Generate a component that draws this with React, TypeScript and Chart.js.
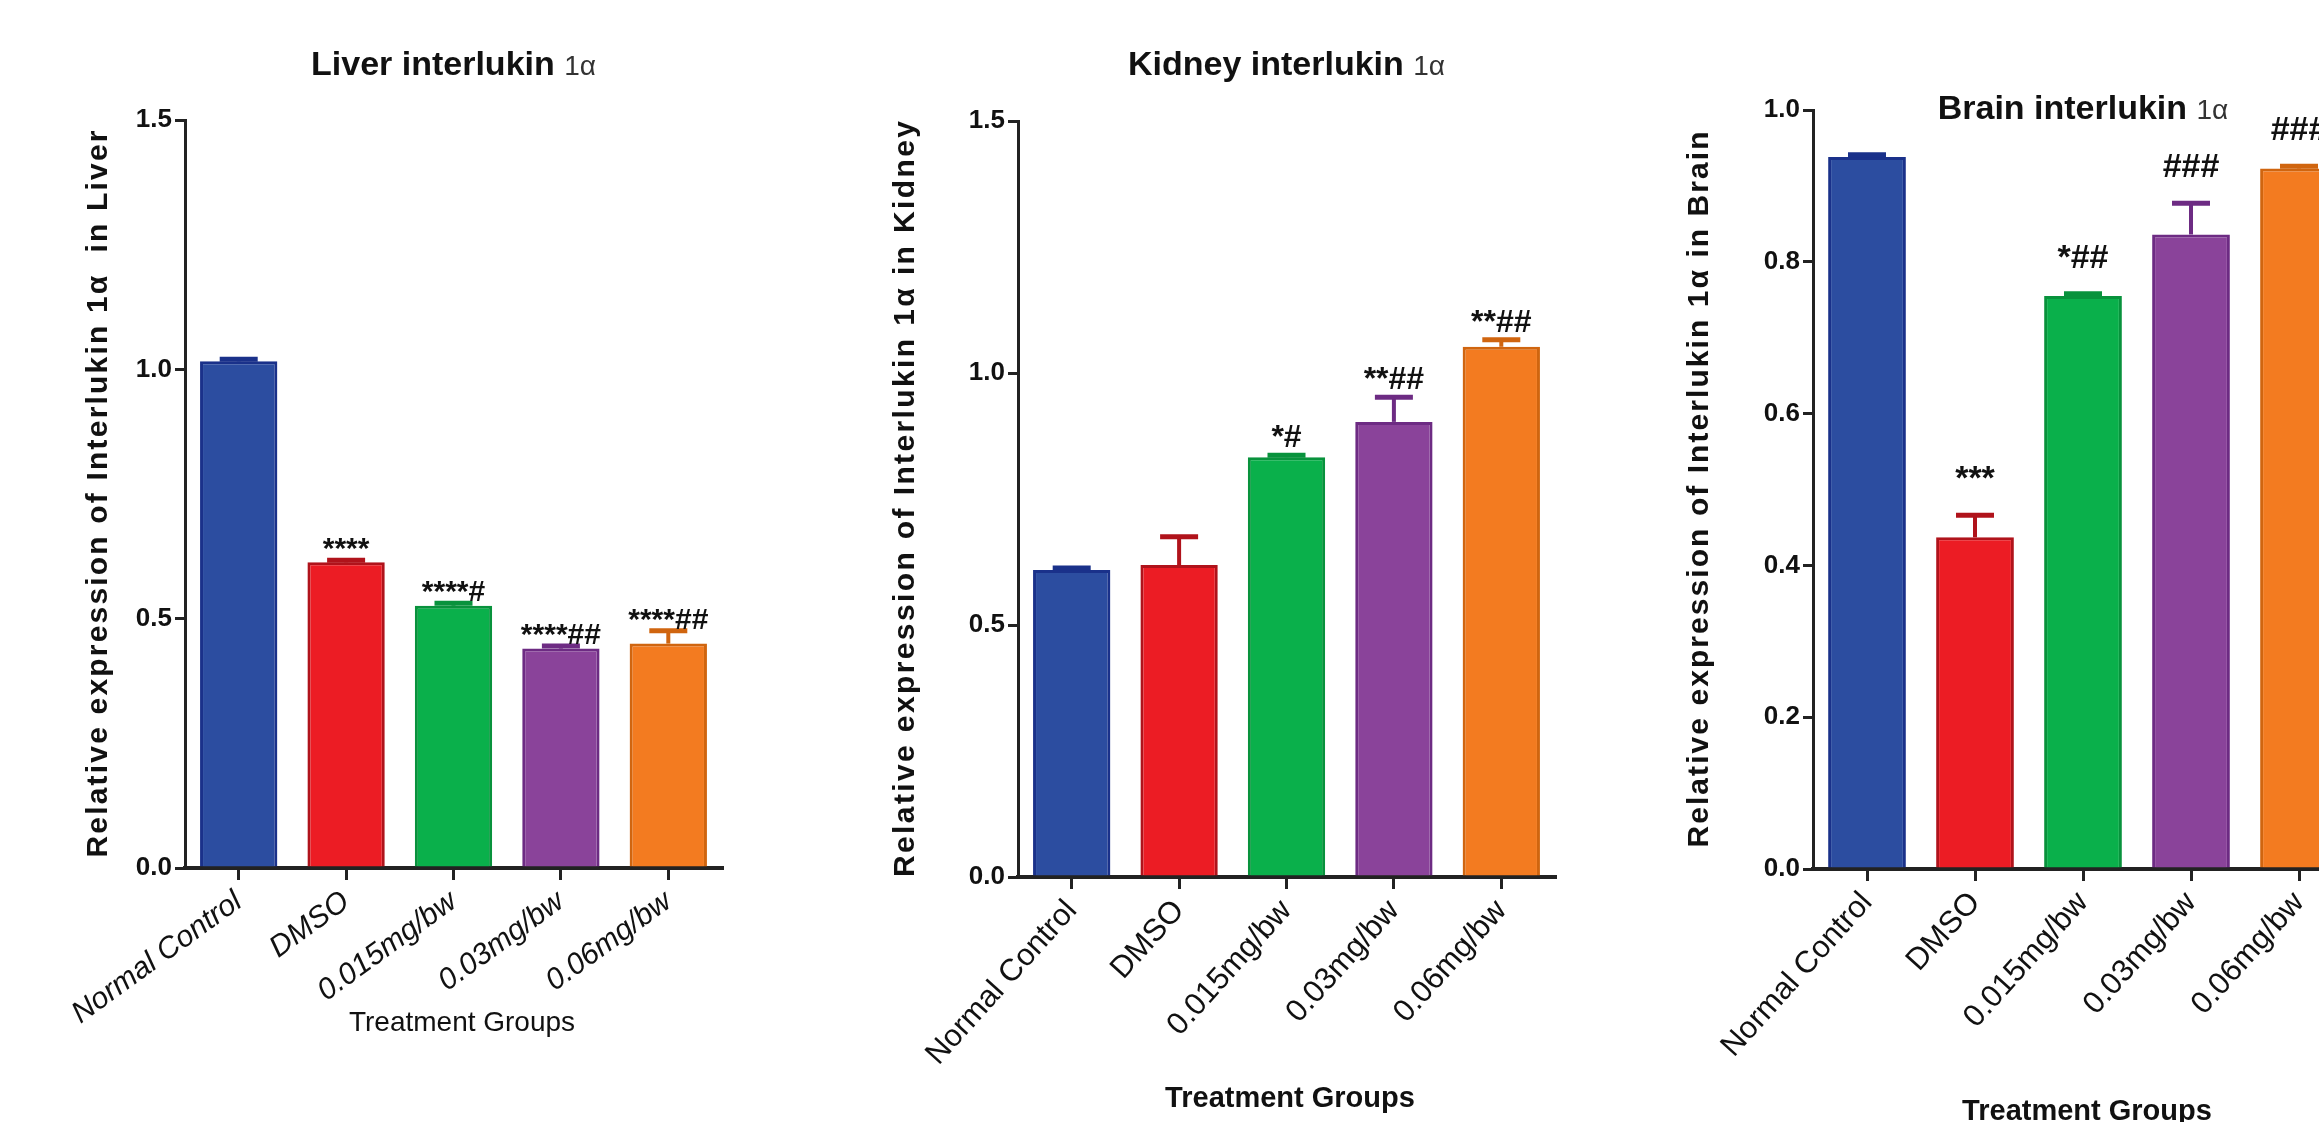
import React, { useEffect, useRef } from "react";
import { Chart, registerables } from "chart.js";

Chart.register(...registerables);

// ---------- data ----------
const categories = ["Normal Control", "DMSO", "0.015mg/bw", "0.03mg/bw", "0.06mg/bw"];

const liverValues = [1.016, 0.613, 0.526, 0.44, 0.45];
const liverErrors = [0.004, 0.004, 0.005, 0.005, 0.026];
const liverMarks = ["", "****", "****#", "****##", "****##"];
const liverTicks = [0, 0.5, 1.0, 1.5];

const kidneyValues = [0.609, 0.619, 0.833, 0.903, 1.052];
const kidneyErrors = [0.004, 0.056, 0.004, 0.049, 0.014];
const kidneyMarks = ["", "", "*#", "**##", "**##"];
const kidneyTicks = [0, 0.5, 1.0, 1.5];

const brainValues = [0.938, 0.437, 0.755, 0.836, 0.923];
const brainErrors = [0.003, 0.029, 0.003, 0.041, 0.003];
const brainMarks = ["", "***", "*##", "###", "###"];
const brainTicks = [0, 0.2, 0.4, 0.6, 0.8, 1.0];

// ---------- styles ----------
const barColors = ["#2C4DA0", "#EC1C24", "#0AB04B", "#8A439A", "#F37B20"];
const barEdgeColors = ["#1A318A", "#B0131B", "#08923C", "#6D2B83", "#D0650F"];
const FONT = "'Liberation Sans', Arial, Helvetica, sans-serif";
const H = 1122;

type Panel = {
  key: string;
  left: number;
  width: number;
  area: { l: number; r: number; t: number; b: number };
  values: number[];
  errors: number[];
  marks: string[];
  ticks: number[];
  title: string;
  titleY: number;
  yTitle: string;
  yTitleX: number;
  yTitleLen: number;
  xTitle: string;
  xTitleX: number;
  xTitleY: number;
  xTitleFont: string;
  xTickFont: { size: number; style: "normal" | "italic"; weight: string };
  rotation: number;
  markFont: string;
  markGap: number;
};

const panels: Panel[] = [
  {
    key: "liver",
    left: 0,
    width: 780,
    area: { l: 185, r: 722, t: 120, b: 868 },
    values: liverValues,
    errors: liverErrors,
    marks: liverMarks,
    ticks: liverTicks,
    title: "Liver interlukin",
    titleY: 63,
    yTitle: "Relative expression of Interlukin 1\u03b1  in Liver",
    yTitleX: 99,
    yTitleLen: 727,
    xTitle: "Treatment Groups",
    xTitleX: 462,
    xTitleY: 1023,
    xTitleFont: `28px ${FONT}`,
    xTickFont: { size: 30, style: "italic", weight: "normal" },
    rotation: 36,
    markFont: `bold 30px ${FONT}`,
    markGap: 2,
  },
  {
    key: "kidney",
    left: 820,
    width: 800,
    area: { l: 198, r: 735, t: 121, b: 877 },
    values: kidneyValues,
    errors: kidneyErrors,
    marks: kidneyMarks,
    ticks: kidneyTicks,
    title: "Kidney interlukin",
    titleY: 63,
    yTitle: "Relative expression of Interlukin 1\u03b1 in Kidney",
    yTitleX: 86,
    yTitleLen: 756,
    xTitle: "Treatment Groups",
    xTitleX: 470,
    xTitleY: 1099,
    xTitleFont: `bold 29px ${FONT}`,
    xTickFont: { size: 31, style: "normal", weight: "normal" },
    rotation: 48,
    markFont: `bold 32px ${FONT}`,
    markGap: 8,
  },
  {
    key: "brain",
    left: 1640,
    width: 760,
    area: { l: 173, r: 713, t: 110, b: 869 },
    values: brainValues,
    errors: brainErrors,
    marks: brainMarks,
    ticks: brainTicks,
    title: "Brain interlukin",
    titleY: 107,
    yTitle: "Relative expression of Interlukin 1\u03b1 in Brain",
    yTitleX: 60,
    yTitleLen: 716,
    xTitle: "Treatment Groups",
    xTitleX: 447,
    xTitleY: 1112,
    xTitleFont: `bold 29px ${FONT}`,
    xTickFont: { size: 31, style: "normal", weight: "normal" },
    rotation: 48,
    markFont: `bold 34px ${FONT}`,
    markGap: 26,
  },
];

function makeDecor(p: Panel) {
  return {
    id: "decor_" + p.key,
    afterDatasetsDraw(chart: any) {
      const ctx = chart.ctx as CanvasRenderingContext2D;
      const meta = chart.getDatasetMeta(0);
      const y = chart.scales.y;
      ctx.save();
      meta.data.forEach((bar: any, i: number) => {
        const v = p.values[i];
        const e = p.errors[i];
        const x = bar.x;
        const yTop = y.getPixelForValue(v);
        const yErr = y.getPixelForValue(v + e);
        ctx.strokeStyle = barEdgeColors[i];
        ctx.lineCap = "butt";
        ctx.lineWidth = 4;
        ctx.beginPath();
        ctx.moveTo(x, yTop);
        ctx.lineTo(x, yErr);
        ctx.stroke();
        ctx.lineWidth = 5;
        ctx.beginPath();
        ctx.moveTo(x - 19, yErr);
        ctx.lineTo(x + 19, yErr);
        ctx.stroke();
        if (p.marks[i]) {
          ctx.font = p.markFont;
          ctx.fillStyle = "#111";
          ctx.textAlign = "center";
          ctx.textBaseline = "alphabetic";
          ctx.fillText(p.marks[i], x, yErr - p.markGap);
        }
      });
      ctx.restore();
    },
    afterDraw(chart: any) {
      const ctx = chart.ctx as CanvasRenderingContext2D;
      const ca = chart.chartArea;
      ctx.save();
      ctx.fillStyle = "#111";
      // chart title: bold name + lighter "1α"
      const mainFont = `bold 34px ${FONT}`;
      const subFont = `28px ${FONT}`;
      const main = p.title + " ";
      const sub = "1\u03b1";
      ctx.font = mainFont;
      const w1 = ctx.measureText(main).width;
      ctx.font = subFont;
      const w2 = ctx.measureText(sub).width;
      const cx = (ca.left + ca.right) / 2;
      const x0 = cx - (w1 + w2) / 2;
      ctx.textBaseline = "alphabetic";
      ctx.textAlign = "left";
      ctx.font = mainFont;
      ctx.fillText(main, x0, p.titleY + 12);
      ctx.font = subFont;
      ctx.fillStyle = "#333";
      ctx.fillText(sub, x0 + w1, p.titleY + 12);
      ctx.fillStyle = "#111";

      // y-axis title, fitted to its length
      ctx.save();
      ctx.translate(p.yTitleX, (ca.top + ca.bottom) / 2);
      ctx.rotate(-Math.PI / 2);
      ctx.font = `bold 30px ${FONT}`;
      (ctx as any).letterSpacing = "0px";
      const w0 = ctx.measureText(p.yTitle).width;
      const n = p.yTitle.length;
      const sp = (p.yTitleLen - w0) / (n - 1);
      (ctx as any).letterSpacing = `${sp}px`;
      ctx.textAlign = "left";
      ctx.textBaseline = "middle";
      ctx.fillText(p.yTitle, -p.yTitleLen / 2, 0);
      ctx.restore();

      // x-axis title
      ctx.font = p.xTitleFont;
      ctx.textAlign = "center";
      ctx.textBaseline = "middle";
      ctx.fillText(p.xTitle, p.xTitleX, p.xTitleY);
      ctx.restore();
    },
  };
}

function PanelChart({ p }: { p: Panel }) {
  const ref = useRef<HTMLCanvasElement | null>(null);
  useEffect(() => {
    if (!ref.current) return;
    const a = p.area;
    const chart = new Chart(ref.current, {
      type: "bar",
      data: {
        labels: categories,
        datasets: [
          {
            data: p.values,
            backgroundColor: barColors,
            borderColor: barEdgeColors,
            borderWidth: 3,
            categoryPercentage: 0.8,
            barPercentage: 0.9,
          },
        ],
      },
      options: {
        responsive: false,
        animation: false,
        devicePixelRatio: 1,
        layout: {
          autoPadding: false,
          padding: { left: 0, top: a.t, right: p.width - a.r, bottom: 0 },
        },
        plugins: {
          legend: { display: false },
          title: { display: false },
          tooltip: { enabled: false },
        },
        scales: {
          x: {
            type: "category",
            offset: true,
            grid: {
              display: true,
              drawOnChartArea: false,
              drawTicks: true,
              tickLength: 12,
              offset: false,
              color: "#222",
              lineWidth: 3,
            },
            border: { display: true, color: "#222", width: 4 },
            ticks: {
              autoSkip: false,
              minRotation: p.rotation,
              maxRotation: p.rotation,
              padding: 4,
              color: "#111",
              font: { family: FONT, size: p.xTickFont.size, style: p.xTickFont.style, weight: p.xTickFont.weight as any },
            },
            afterFit: (s: any) => {
              s.height = H - a.b;
            },
          },
          y: {
            type: "linear",
            min: p.ticks[0],
            max: p.ticks[p.ticks.length - 1],
            grid: {
              display: true,
              drawOnChartArea: false,
              drawTicks: true,
              tickLength: 10,
              color: "#222",
              lineWidth: 3,
            },
            border: { display: true, color: "#222", width: 3 },
            ticks: {
              padding: 3,
              color: "#111",
              font: { family: FONT, size: 26, weight: "bold" },
              callback: (v: any) => Number(v).toFixed(1),
            },
            afterBuildTicks: (s: any) => {
              s.ticks = p.ticks.map((v) => ({ value: v }));
            },
            afterFit: (s: any) => {
              s.width = a.l;
            },
          },
        },
      },
      plugins: [makeDecor(p)],
    } as any);
    return () => chart.destroy();
  }, [p]);
  return (
    <canvas
      ref={ref}
      width={p.width}
      height={H}
      style={{ position: "absolute", left: p.left, top: 0, width: p.width, height: H }}
    />
  );
}

export default function App() {
  return (
    <div
      style={{
        position: "absolute",
        left: 0,
        top: 0,
        width: 2319,
        height: H,
        overflow: "hidden",
        background: "#ffffff",
      }}
    >
      {panels.map((p) => (
        <PanelChart key={p.key} p={p} />
      ))}
    </div>
  );
}
